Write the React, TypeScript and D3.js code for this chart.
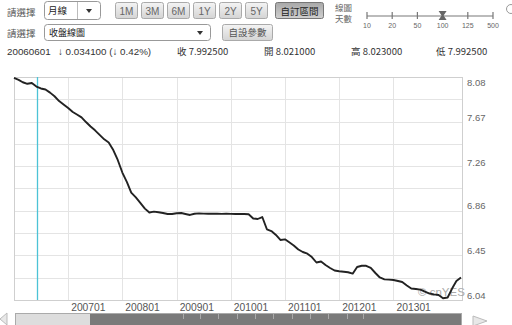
import React from 'react';
import * as d3 from 'd3';

const startMonth = new Date(2006, 0, 1);
const endMonth = new Date(2014, 3, 1);
const months: Date[] = d3.timeMonth.range(startMonth, d3.timeMonth.offset(endMonth, 1));

const closeValues: number[] = [
  8.071, 8.053, 8.032, 8.018, 8.025, 7.993, 7.975, 7.966, 7.937, 7.904, 7.860, 7.828,
  7.796, 7.760, 7.737, 7.711, 7.668, 7.627, 7.592, 7.551, 7.510, 7.481, 7.412, 7.321,
  7.206, 7.119, 7.023, 6.978, 6.929, 6.876, 6.840, 6.848, 6.843, 6.836, 6.827, 6.827,
  6.834, 6.836, 6.827, 6.818, 6.829, 6.832, 6.830, 6.829, 6.830, 6.829, 6.828, 6.829,
  6.828, 6.827, 6.828, 6.827, 6.824, 6.786, 6.781, 6.799, 6.687, 6.671, 6.635, 6.589,
  6.595, 6.566, 6.539, 6.502, 6.479, 6.464, 6.433, 6.383, 6.392, 6.360, 6.333, 6.310,
  6.303, 6.299, 6.294, 6.281, 6.342, 6.353, 6.353, 6.335, 6.287, 6.246, 6.229, 6.226,
  6.223, 6.214, 6.205, 6.173, 6.145, 6.141, 6.135, 6.117, 6.099, 6.092, 6.086, 6.056,
  6.063, 6.147, 6.214, 6.246,
];

const yTickLabels = ['8.08', '7.67', '7.26', '6.86', '6.45', '6.04'];
const yMin = 6.04;
const yMax = 8.08;
const xTickDates = [2007, 2008, 2009, 2010, 2011, 2012, 2013].map((y) => new Date(y, 0, 1));
const xTickLabels = ['200701', '200801', '200901', '201001', '201101', '201201', '201301'];
const cursorDate = new Date(2006, 5, 1);

const rangeButtons = ['1M', '3M', '6M', '1Y', '2Y', '5Y'];
const sliderLabels = ['10', '20', '50', '100', '125', '500'];

const infoDate = '20060601';
const infoChange = '↓ 0.034100 (↓ 0.42%)';
const infoClose = '收 7.992500';
const infoOpen = '開 8.021000';
const infoHigh = '高 8.023000';
const infoLow = '低 7.992500';

const FONT = '"Liberation Sans", Arial, sans-serif';
const CJK = '"Noto Sans CJK TC", "Liberation Sans", sans-serif';

export default function App() {
  const W = 512, H = 325;
  const left = 14, right = 462, top = 77, bottom = 300;
  const x = d3.scaleTime().domain([startMonth, endMonth]).range([left, 461]);
  const y = d3.scaleLinear().domain([yMin, yMax]).range([bottom, top]);
  const gridVals = d3.range(0, 11).map((i) => yMin + (i * (yMax - yMin)) / 10);
  const data = months.map((d, i) => ({ d, v: closeValues[i] }));
  const line = d3.line<{ d: Date; v: number }>().x((p) => x(p.d)).y((p) => y(p.v));
  const yLabelVals = yTickLabels.map((t) => +t);

  const btnX = [115, 141, 167, 193, 219, 245];
  const sliderX = d3.scalePoint<string>().domain(sliderLabels).range([367, 493]);
  const t100 = sliderX('100')!;

  return (
    <div style={{ position: 'fixed', left: 0, top: 0 }}>
      <svg width={W} height={H} style={{ display: 'block', background: '#fff' }}>
        <defs>
          <linearGradient id="btn" x1="0" y1="0" x2="0" y2="1">
            <stop offset="0" stopColor="#f4f4f4" />
            <stop offset="1" stopColor="#d4d4d4" />
          </linearGradient>
          <linearGradient id="btnOn" x1="0" y1="0" x2="0" y2="1">
            <stop offset="0" stopColor="#a8a8a8" />
            <stop offset="1" stopColor="#cfcfcf" />
          </linearGradient>
        </defs>

        {/* Row 1 */}
        <text x={7} y={16} fontFamily={CJK} fontSize={9.5} fill="#555">請選擇</text>
        <rect x={44.5} y={1.5} width={56} height={18} rx={3} fill="#fff" stroke="#999" />
        <line x1={77.5} y1={2} x2={77.5} y2={19} stroke="#bbb" />
        <text x={48} y={14} fontFamily={CJK} fontSize={9.5} fill="#222">月線</text>
        <path d="M86,9 L92,9 L89,13 Z" fill="#333" />
        {rangeButtons.map((b, i) => (
          <g key={b}>
            <rect x={btnX[i] + 0.5} y={2.5} width={22} height={16} rx={2} fill="url(#btn)" stroke="#aaa" />
            <text x={btnX[i] + 11.5} y={14.5} textAnchor="middle" fontFamily={FONT} fontSize={10} fill="#666">{b}</text>
          </g>
        ))}
        <rect x={275.5} y={2.5} width={48} height={16} rx={2} fill="url(#btnOn)" stroke="#777" />
        <text x={299.5} y={14.5} textAnchor="middle" fontFamily={CJK} fontSize={9.5} fill="#222">自訂區間</text>

        <text x={335} y={11} fontFamily={CJK} fontSize={8.5} fill="#666">線圖</text>
        <text x={335} y={22} fontFamily={CJK} fontSize={8.5} fill="#666">天數</text>
        <line x1={367} y1={16} x2={493} y2={16} stroke="#bbb" strokeWidth={2} />
        {sliderLabels.map((s) => (
          <g key={s}>
            <line x1={sliderX(s)} y1={12} x2={sliderX(s)} y2={19} stroke="#777" strokeWidth={1.2} />
            <text x={sliderX(s)} y={28} textAnchor="middle" fontFamily={FONT} fontSize={7} fill="#666">{s}</text>
          </g>
        ))}
        <path d={`M${t100 - 4},11 L${t100 + 4},11 L${t100 + 1},15.5 L${t100 + 4},20 L${t100 - 4},20 L${t100 - 1},15.5 Z`} fill="#666" />
        <circle cx={511} cy={9} r={4.5} fill="none" stroke="#999" />

        {/* Row 2 */}
        <text x={7} y={37} fontFamily={CJK} fontSize={9.5} fill="#555">請選擇</text>
        <rect x={44.5} y={24.5} width={166} height={16} rx={3} fill="#fff" stroke="#999" />
        <text x={49} y={36} fontFamily={CJK} fontSize={9} fill="#222">收盤線圖</text>
        <path d="M197,31 L203,31 L200,35 Z" fill="#333" />
        <rect x={222.5} y={24.5} width={50} height={16} rx={2} fill="url(#btn)" stroke="#aaa" />
        <text x={247.5} y={36} textAnchor="middle" fontFamily={CJK} fontSize={9.5} fill="#555">自設參數</text>

        {/* Row 3 info */}
        <text x={7} y={55} fontFamily={FONT} fontSize={9.8} fill="#333">{infoDate}</text>
        <text x={58} y={55} fontFamily={FONT} fontSize={9.8} fill="#333">{infoChange}</text>
        <text x={177} y={55} fontFamily={CJK} fontSize={9.5} fill="#333">{infoClose}</text>
        <text x={264} y={55} fontFamily={CJK} fontSize={9.5} fill="#333">{infoOpen}</text>
        <text x={351} y={55} fontFamily={CJK} fontSize={9.5} fill="#333">{infoHigh}</text>
        <text x={436} y={55} fontFamily={CJK} fontSize={9.5} fill="#333">{infoLow}</text>

        {/* Plot */}
        {gridVals.map((g, i) => (
          <line key={'h' + i} x1={left} x2={right} y1={Math.round(y(g)) + 0.5} y2={Math.round(y(g)) + 0.5} stroke="#e4e4e4" />
        ))}
        {xTickDates.map((d, i) => (
          <line key={'v' + i} x1={Math.round(x(d)) + 0.5} x2={Math.round(x(d)) + 0.5} y1={top} y2={bottom} stroke="#e4e4e4" />
        ))}
        <rect x={left + 0.5} y={top + 0.5} width={right - left} height={bottom - top} fill="none" stroke="#cfcfcf" />
        <line x1={Math.round(x(cursorDate)) + 1.5} x2={Math.round(x(cursorDate)) + 1.5} y1={top} y2={bottom} stroke="#4cc3d6" strokeWidth={1.3} />
        <text x={418} y={296} fontFamily={FONT} fontSize={11.5} fill="#aaa">© cnYES</text>
        <path d={line(data) || ''} fill="none" stroke="#222" strokeWidth={1.9} strokeLinejoin="round" />

        {yLabelVals.map((v, i) => (
          <text key={'yl' + i} x={467} y={Math.max(y(v) - 1, 86)} fontFamily={FONT} fontSize={9.5} fill="#666">{yTickLabels[i]}</text>
        ))}
        {xTickDates.map((d, i) => (
          <text key={'xl' + i} x={x(d) + 3} y={311} fontFamily={FONT} fontSize={10.3} fill="#555">{xTickLabels[i]}</text>
        ))}

        {/* Scrollbar */}
        <path d="M7,313 L0,319 L7,325 Z" fill="#e8e8e8" stroke="#bbb" />
        <rect x={15.5} y={313.5} width={446} height={13} fill="#ddd" stroke="#aaa" />
        <rect x={90} y={314} width={371} height={12} fill="#7a7a7a" />
        {[183, 200, 218, 237, 255, 273, 292, 310, 328, 347, 363].map((t) => (
          <line key={'s' + t} x1={t + 0.5} x2={t + 0.5} y1={314} y2={319} stroke="#aaa" />
        ))}
        <path d="M473,316 L487,321 L473,326 Z" fill="#e8e8e8" stroke="#bbb" />
      </svg>
    </div>
  );
}
